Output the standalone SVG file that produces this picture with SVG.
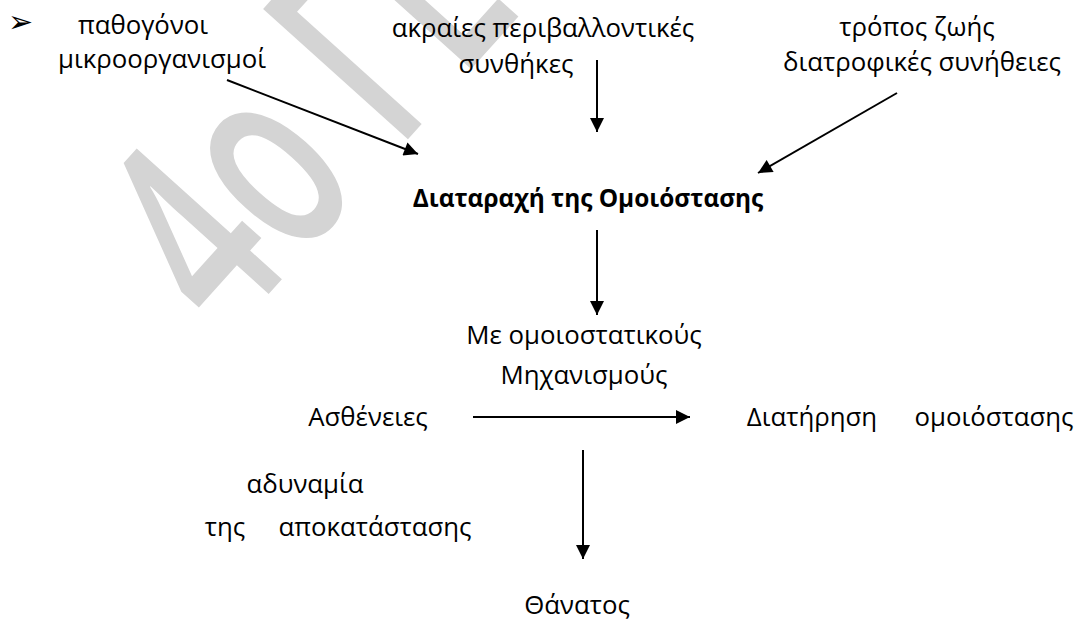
<svg xmlns="http://www.w3.org/2000/svg" width="1074" height="621" viewBox="0 0 1074 621">
  <style>
    .t { font-family: "Open Sans", "Noto Sans", sans-serif; font-size: 25.8px; fill: #000; text-anchor: middle; }
    .b { font-weight: bold; font-size: 24.4px; }
    .wm { font-family: "Open Sans", "Noto Sans", sans-serif; font-size: 273px; font-weight: 600; fill: #d4d4d4; }
    .c { stroke: #000; stroke-width: 2; fill: none; marker-end: url(#ah); }
  </style>
  <defs>
    <marker id="ah" viewBox="0 0 10 10" refX="10" refY="5" markerWidth="7.5" markerHeight="7" markerUnits="strokeWidth" orient="auto">
      <path d="M0,0 L10,5 L0,10 Z" fill="#000"/>
    </marker>
  </defs>
  <rect width="1074" height="621" fill="#fff"/>
  <g id="watermark" transform="translate(410,137) rotate(-48) scale(0.64,1)">
    <text class="wm" x="-424" y="0" xml:space="preserve">4ο ΓΕ</text>
  </g>
  <g id="bullet"><text x="8" y="32" style="font-family:'DejaVu Sans',sans-serif;font-size:30px;">➢</text></g>
  <g id="n-pathogonoi">
    <text class="t" x="143" y="34">παθογόνοι</text>
    <text class="t" x="162" y="68">μικροοργανισμοί</text>
  </g>
  <g id="n-akraies">
    <text class="t" x="543" y="37">ακραίες περιβαλλοντικές</text>
    <text class="t" x="516" y="73">συνθήκες</text>
  </g>
  <g id="n-tropos">
    <text class="t" x="917" y="36">τρόπος ζωής</text>
    <text class="t" x="922" y="71">διατροφικές συνήθειες</text>
  </g>
  <g id="n-diataraxi">
    <text class="t b" x="588" y="207">Διαταραχή της Ομοιόστασης</text>
  </g>
  <g id="n-mixanismous">
    <text class="t" x="584" y="344">Με ομοιοστατικούς</text>
    <text class="t" x="584" y="384">Μηχανισμούς</text>
  </g>
  <g id="n-astheneies">
    <text class="t" x="368" y="426">Ασθένειες</text>
  </g>
  <g id="n-diatirisi">
    <text class="t" x="812" y="426">Διατήρηση</text>
    <text class="t" x="994" y="426">ομοιόστασης</text>
  </g>
  <g id="n-adynamia">
    <text class="t" x="305" y="493">αδυναμία</text>
    <text class="t" x="225" y="536">της</text>
    <text class="t" x="375" y="536">αποκατάστασης</text>
  </g>
  <g id="n-thanatos">
    <text class="t" x="577" y="614">Θάνατος</text>
  </g>
  <g id="connectors">
    <line class="c" x1="227" y1="80" x2="418" y2="154"/>
    <line class="c" x1="597" y1="60" x2="597" y2="132"/>
    <line class="c" x1="897" y1="93" x2="758" y2="173"/>
    <line class="c" x1="597" y1="230" x2="597" y2="315"/>
    <line class="c" x1="473" y1="417" x2="690" y2="417"/>
    <line class="c" x1="583" y1="450" x2="583" y2="559"/>
  </g>
</svg>
